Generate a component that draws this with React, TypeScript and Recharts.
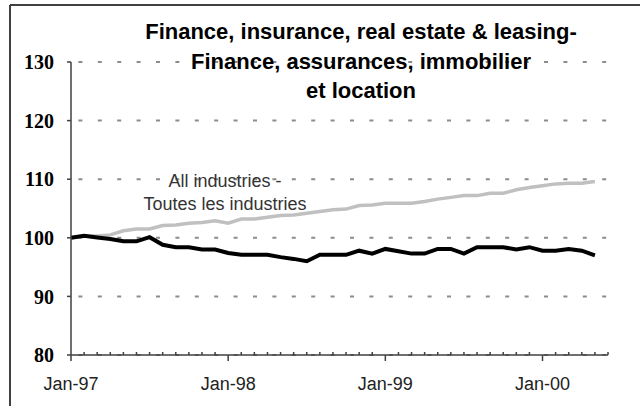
import { LineChart, Line, XAxis, YAxis, CartesianGrid } from "recharts";

// monthly categories, Jan-97 .. Jun-00 (last slot has no data)
const months = [
  "Jan-97", "Feb-97", "Mar-97", "Apr-97", "May-97", "Jun-97", "Jul-97", "Aug-97", "Sep-97", "Oct-97", "Nov-97", "Dec-97",
  "Jan-98", "Feb-98", "Mar-98", "Apr-98", "May-98", "Jun-98", "Jul-98", "Aug-98", "Sep-98", "Oct-98", "Nov-98", "Dec-98",
  "Jan-99", "Feb-99", "Mar-99", "Apr-99", "May-99", "Jun-99", "Jul-99", "Aug-99", "Sep-99", "Oct-99", "Nov-99", "Dec-99",
  "Jan-00", "Feb-00", "Mar-00", "Apr-00", "May-00", "Jun-00",
];

const allIndustries = [
  100.0, 100.3, 100.3, 100.5, 101.2, 101.5, 101.5, 102.1, 102.2, 102.5, 102.6, 102.9,
  102.5, 103.2, 103.2, 103.5, 103.8, 103.9, 104.2, 104.5, 104.8, 104.9, 105.5, 105.6,
  105.9, 105.9, 105.9, 106.2, 106.6, 106.9, 107.2, 107.2, 107.6, 107.6, 108.2, 108.6,
  108.9, 109.2, 109.3, 109.3, 109.6,
];

const finance = [
  100.0, 100.35, 100.05, 99.8, 99.4, 99.4, 100.1, 98.8, 98.4, 98.4, 98.0, 98.0,
  97.4, 97.1, 97.1, 97.1, 96.7, 96.4, 96.0, 97.1, 97.1, 97.1, 97.8, 97.3,
  98.1, 97.7, 97.3, 97.3, 98.1, 98.1, 97.3, 98.4, 98.4, 98.4, 98.0, 98.4,
  97.8, 97.8, 98.1, 97.8, 97.0,
];

const yTicks = [80, 90, 100, 110, 120, 130];

const titleLines = [
  "Finance, insurance, real estate & leasing-",
  "Finance, assurances, immobilier",
  "et location",
];

const data = months.map((m, i) => ({
  month: m,
  all: allIndustries[i] ?? null,
  fin: finance[i] ?? null,
}));

const AXIS = "#404040";

function MonthTick({ x, y, payload }: any) {
  const major = String(payload.value).startsWith("Jan");
  return (
    <g>
      <line
        x1={x}
        x2={x}
        y1={major ? y : y - 3}
        y2={major ? y + 6 : y}
        stroke={AXIS}
        strokeWidth={1.5}
      />
      {major && (
        <text
          x={x}
          y={y + 35}
          textAnchor="middle"
          fontSize={18}
          fontFamily="'Liberation Sans', Arial, sans-serif"
          fill="#222"
        >
          {payload.value}
        </text>
      )}
    </g>
  );
}

export default function App() {
  return (
    <div style={{ position: "absolute", left: 0, top: 0, width: 640, height: 406, background: "#fff" }}>
      <LineChart
        width={640}
        height={406}
        data={data}
        margin={{ top: 62, right: 32, bottom: 21, left: 11 }}
      >
        <CartesianGrid
          vertical={false}
          stroke="#8c8c8c"
          strokeWidth={2}
          strokeDasharray="4 15.4"
          strokeDashoffset={12}
        />
        <XAxis
          dataKey="month"
          interval={0}
          tickSize={0}
          tickMargin={0}
          tickLine={false}
          axisLine={{ stroke: AXIS, strokeWidth: 1.5 }}
          tick={<MonthTick />}
          height={30}
        />
        <YAxis
          domain={[80, 130]}
          ticks={yTicks}
          width={60}
          tickSize={4}
          tickMargin={13}
          axisLine={{ stroke: AXIS, strokeWidth: 1.5 }}
          tickLine={{ stroke: AXIS, strokeWidth: 1.5 }}
          tick={{
            fontSize: 20,
            fontFamily: "'Liberation Serif', 'Times New Roman', serif",
            fontWeight: "bold",
            fill: "#000",
          }}
        />
        <Line
          dataKey="all"
          stroke="#c0c0c0"
          strokeWidth={3.5}
          dot={false}
          activeDot={false}
          isAnimationActive={false}
        />
        <Line
          dataKey="fin"
          stroke="#000"
          strokeWidth={4}
          dot={false}
          activeDot={false}
          isAnimationActive={false}
        />
      </LineChart>
      <svg
        width={640}
        height={406}
        style={{ position: "absolute", left: 0, top: 0, pointerEvents: "none" }}
      >
        <line x1={10} y1={5} x2={640} y2={5} stroke={AXIS} strokeWidth={2} />
        <line x1={10} y1={5} x2={10} y2={406} stroke={AXIS} strokeWidth={2} />
        {titleLines.map((t, i) => (
          <text
            key={t}
            x={361}
            y={39 + i * 29.5}
            textAnchor="middle"
            fontSize={22}
            fontWeight="bold"
            fontFamily="'Liberation Sans', Arial, sans-serif"
            fill="#000"
          >
            {t}
          </text>
        ))}
        <text
          x={225}
          y={186.5}
          textAnchor="middle"
          fontSize={18}
          fontFamily="'Liberation Sans', Arial, sans-serif"
          fill="#333"
        >
          All industries -
        </text>
        <text
          x={225}
          y={210}
          textAnchor="middle"
          fontSize={18}
          fontFamily="'Liberation Sans', Arial, sans-serif"
          fill="#333"
        >
          Toutes les industries
        </text>
      </svg>
    </div>
  );
}
